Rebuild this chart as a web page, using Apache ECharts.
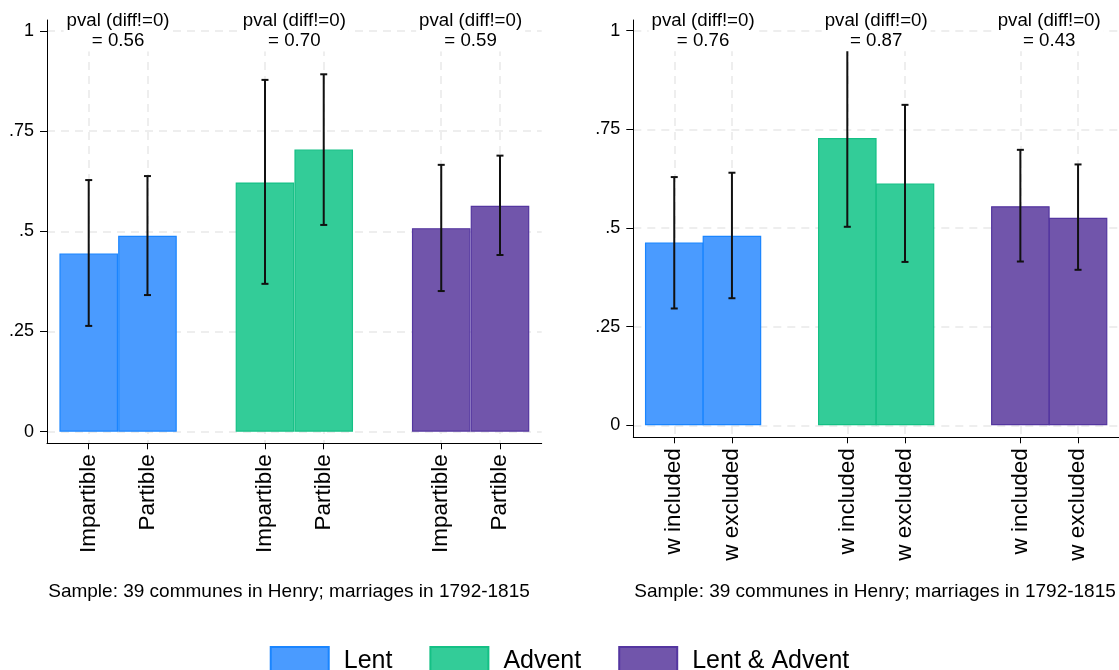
<!DOCTYPE html>
<html>
<head>
<meta charset="utf-8">
<script src="https://cdn.jsdelivr.net/npm/echarts@6/dist/echarts.min.js"></script>
<style>
  html, body { margin: 0; padding: 0; background: #fff; }
  #chart { width: 1119px; height: 670px; }
</style>
</head>
<body>
<div id="chart"></div>
<script>
const groups = ["Lent", "Advent", "Lent & Advent"];
const leftLabels = ["Impartible", "Partible"];
const rightLabels = ["w included", "w excluded"];

// means and 95% CI, per group, [first, second]
const leftMeans = [[0.445, 0.489], [0.622, 0.704], [0.508, 0.564]];
const leftLow = [[0.264, 0.341], [0.369, 0.516], [0.351, 0.441]];
const leftHigh = [[0.628, 0.638], [0.878, 0.892], [0.666, 0.689]];
const leftPvals = ["0.56", "0.70", "0.59"];

const rightMeans = [[0.463, 0.48], [0.728, 0.613], [0.555, 0.526]];
const rightLow = [[0.296, 0.322], [0.503, 0.414], [0.415, 0.394]];
const rightHigh = [[0.629, 0.64], [0.951, 0.812], [0.698, 0.661]];
const rightPvals = ["0.76", "0.87", "0.43"];

const yTicks = [0, 0.25, 0.5, 0.75, 1];
const yTickLabels = ["0", ".25", ".5", ".75", "1"];
const note = "Sample: 39 communes in Henry; marriages in 1792-1815";

const FONT = "'Liberation Sans', Arial, sans-serif";
const fills = ["#4a9bff", "#33cc98", "#7155ab"];
const borders = ["#1a85ff", "#14c085", "#5436a0"];
const gridLine = { type: [8, 6], color: "#e9e9e9", width: 1.5 };

// slot on the x axis: two bars per group, one empty slot between groups
const pos = (g, i) => g * 3 + i + 1;
const xTicks = [];
groups.forEach((_, g) => [0, 1].forEach((i) => xTicks.push(pos(g, i))));

const chart = echarts.init(document.getElementById("chart"));

function xAxisFor(p, labels) {
  return {
    type: "value",
    gridIndex: p,
    min: 0.29,
    max: 8.71,
    axisLine: { show: true, onZero: false, lineStyle: { color: "#000", width: 1 } },
    axisTick: { show: true, length: 6, customValues: xTicks, lineStyle: { color: "#000" } },
    axisLabel: {
      customValues: xTicks,
      rotate: 90,
      margin: 11,
      fontSize: 22.5,
      color: "#000",
      fontFamily: FONT,
      formatter: (v) => labels[(Math.round(v) - 1) % 3],
    },
    splitLine: { show: true, lineStyle: gridLine },
  };
}

function yAxisFor(p, min, max) {
  return {
    type: "value",
    gridIndex: p,
    min: min,
    max: max,
    axisLine: { show: true, onZero: false, lineStyle: { color: "#000", width: 1 } },
    axisTick: { show: true, length: 7, customValues: yTicks, lineStyle: { color: "#000" } },
    axisLabel: {
      customValues: yTicks,
      margin: 13,
      fontSize: 18,
      color: "#000",
      fontFamily: FONT,
      formatter: (v) => yTickLabels[yTicks.indexOf(v)],
    },
    splitLine: { show: true, lineStyle: gridLine },
  };
}

function panelSeries(p, means, low, high, pvals) {
  const out = [];
  groups.forEach((name, g) => {
    out.push({
      name: name,
      type: "bar",
      xAxisIndex: p,
      yAxisIndex: p,
      barWidth: 58.6,
      barGap: "-100%",
      itemStyle: { color: fills[g], borderColor: borders[g], borderWidth: 1.2 },
      data: means[g].map((v, i) => [pos(g, i), v]),
      z: 2,
    });
  });

  const err = [];
  groups.forEach((_, g) =>
    means[g].forEach((_, i) => err.push([pos(g, i), low[g][i], high[g][i]]))
  );
  out.push({
    type: "custom",
    xAxisIndex: p,
    yAxisIndex: p,
    encode: { x: 0, y: [1, 2] },
    data: err,
    z: 3,
    renderItem: (params, api) => {
      const x = api.value(0);
      const lo = api.coord([x, api.value(1)]);
      const hi = api.coord([x, api.value(2)]);
      const w = 3.5;
      const style = { stroke: "#111", lineWidth: 2 };
      return {
        type: "group",
        children: [
          { type: "line", shape: { x1: lo[0], y1: lo[1], x2: hi[0], y2: hi[1] }, style },
          { type: "line", shape: { x1: hi[0] - w, y1: hi[1], x2: hi[0] + w, y2: hi[1] }, style },
          { type: "line", shape: { x1: lo[0] - w, y1: lo[1], x2: lo[0] + w, y2: lo[1] }, style },
        ],
      };
    },
  });

  // p-value annotations, centred on each group at y = 1
  out.push({
    type: "scatter",
    xAxisIndex: p,
    yAxisIndex: p,
    symbol: "rect",
    symbolSize: 0.01,
    itemStyle: { color: "#fff", opacity: 1 },
    data: pvals.map((v, g) => [pos(g, 0) + 0.5, 1, v]),
    z: 5,
    label: {
      show: true,
      position: "inside",
      formatter: (d) => "pval (diff!=0)\n= " + d.value[2],
      fontSize: 18.7,
      lineHeight: 19.5,
      color: "#000",
      opacity: 1,
      textBorderWidth: 0,
      fontFamily: FONT,
      backgroundColor: "#fff",
      padding: [1, 3],
      align: "center",
      verticalAlign: "middle",
    },
  });
  return out;
}

const option = {
  animation: false,
  textStyle: { fontFamily: FONT, color: "#000" },
  grid: [
    { left: 47, top: 20, width: 494.7, height: 423.3 },
    { left: 633.3, top: 20, width: 494.4, height: 417.3 },
  ],
  xAxis: [xAxisFor(0, leftLabels), xAxisFor(1, rightLabels)],
  yAxis: [yAxisFor(0, -0.029, 1.0275), yAxisFor(1, -0.0304, 1.027)],
  legend: {
    data: groups,
    left: "center",
    top: 641,
    icon: "rect",
    itemWidth: 58,
    itemHeight: 28,
    itemGap: 37,
    textStyle: { fontSize: 25, color: "#000", fontFamily: FONT, padding: [0, 0, 0, 10] },
  },
  graphic: [
    {
      type: "text",
      x: 289,
      y: 592,
      style: { text: note, align: "center", verticalAlign: "middle", fontSize: 19, fontFamily: FONT, fill: "#000" },
    },
    {
      type: "text",
      x: 875,
      y: 592,
      style: { text: note, align: "center", verticalAlign: "middle", fontSize: 19, fontFamily: FONT, fill: "#000" },
    },
  ],
  series: [
    ...panelSeries(0, leftMeans, leftLow, leftHigh, leftPvals),
    ...panelSeries(1, rightMeans, rightLow, rightHigh, rightPvals),
  ],
};

chart.setOption(option);
</script>
</body>
</html>
